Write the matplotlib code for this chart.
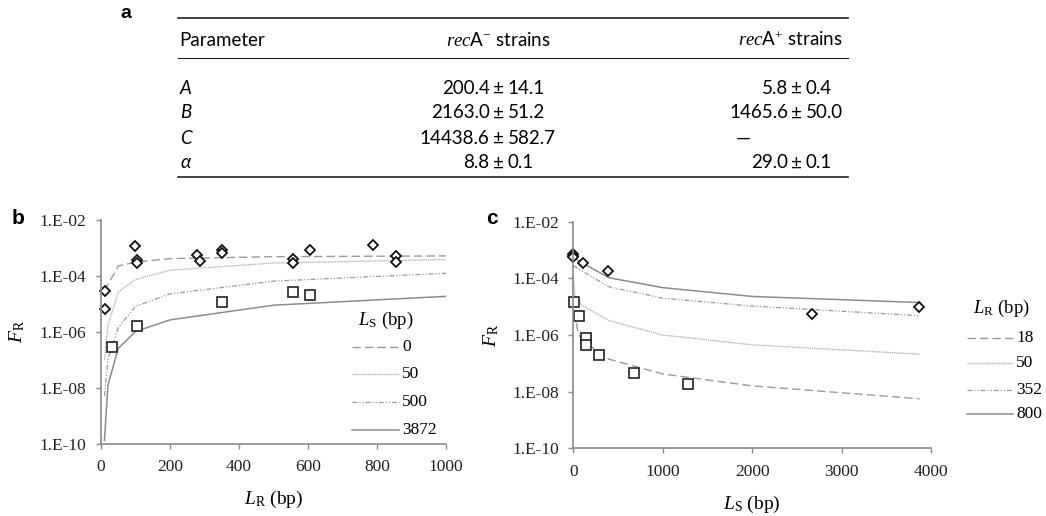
import numpy as np
import matplotlib
matplotlib.use("Agg")
import matplotlib.pyplot as plt
from matplotlib.ticker import FixedLocator, FuncFormatter

plt.rcParams["font.family"] = ["Liberation Serif", "DejaVu Serif"]
plt.rcParams["mathtext.fontset"] = "custom"
plt.rcParams["mathtext.rm"] = "Liberation Serif"
plt.rcParams["mathtext.it"] = "Liberation Serif:italic"

# ---- table (panel a) ----
tab_header = ["Parameter", "recA", "recA"]
tab_params = ["A", "B", "C", "α"]
tab_minus_val = ["200.4", "2163.0", "14438.6", "8.8"]
tab_minus_err = ["14.1", "51.2", "582.7", "0.1"]
tab_plus_val = ["5.8", "1465.6", None, "29.0"]
tab_plus_err = ["0.4", "50.0", None, "0.1"]

# ---- panel b: F_R vs L_R ----
b_dia_x = [12.6, 12.6, 97.7, 105, 105, 277.6, 287, 352, 352, 557, 557, 605, 788, 856, 856]
b_dia_y = [2.9e-5, 6.3e-6, 1.1e-3, 3.7e-4, 2.8e-4, 5.4e-4, 3.2e-4, 8.1e-4, 6.2e-4,
           3.8e-4, 2.8e-4, 8.1e-4, 1.2e-3, 4.9e-4, 3.0e-4]
b_sq_x = [31, 105, 352, 557, 605]
b_sq_y = [2.8e-7, 1.6e-6, 1.15e-5, 2.5e-5, 2.0e-5]

b_ls_labels = ["0", "50", "500", "3872"]
b_curve_x = [
    [10, 50, 100, 200, 500, 1000],
    [10, 20, 50, 100, 200, 500, 1000],
    [10, 20, 50, 100, 200, 500, 1000],
    [10, 20, 50, 100, 200, 500, 1000],
]
b_curve_y = [
    [2.8e-5, 2.2e-4, 3.0e-4, 4.0e-4, 4.7e-4, 5.0e-4],
    [1e-7, 1.6e-6, 2.6e-5, 7.2e-5, 1.55e-4, 2.8e-4, 3.7e-4],
    [5e-9, 1e-7, 1.4e-6, 7.9e-6, 2.2e-5, 6.3e-5, 1.2e-4],
    [1.3e-10, 1.2e-8, 2.5e-7, 1e-6, 2.6e-6, 8.7e-6, 1.8e-5],
]

# ---- panel c: F_R vs L_S ----
c_dia_x = [0, 0, 0, 112, 392, 2665, 3870]
c_dia_y = [7.1e-4, 6.3e-4, 5.6e-4, 3.5e-4, 1.8e-4, 5.5e-6, 9.8e-6]
c_sq_x = [11, 67, 138, 145, 287, 683, 1287]
c_sq_y = [1.5e-5, 4.6e-6, 7.6e-7, 4.4e-7, 1.9e-7, 4.6e-8, 1.9e-8]

c_lr_labels = ["18", "50", "352", "800"]
c_curve_x = [
    [0, 50, 100, 400, 1000, 2000, 3872],
    [0, 20, 100, 400, 1000, 2000, 3872],
    [0, 100, 400, 1000, 2000, 3872],
    [0, 100, 400, 1000, 2000, 3872],
]
c_curve_y = [
    [2e-5, 1.26e-6, 6.3e-7, 1.4e-7, 4.2e-8, 1.6e-8, 5.6e-9],
    [1.26e-4, 2.2e-5, 1.1e-5, 3.2e-6, 1e-6, 4.5e-7, 2.1e-7],
    [2.8e-4, 1.8e-4, 5.0e-5, 2.0e-5, 1.05e-5, 4.8e-6],
    [5.6e-4, 3.5e-4, 1.05e-4, 4.7e-5, 2.3e-5, 1.4e-5],
]

yticks = [1e-10, 1e-8, 1e-6, 1e-4, 1e-2]
styles = [
    dict(color="#9a9a9a", ls=(0, (6, 3)), lw=1.0),
    dict(color="#b5b5b5", ls=(0, (1, 0.6)), lw=1.0),
    dict(color="#9a9a9a", ls=(0, (4, 1.5, 1, 1.5, 1, 1.5)), lw=0.9),
    dict(color="#8c8c8c", ls="-", lw=1.1),
]

fig = plt.figure(figsize=(10.46, 5.16), dpi=100)

def fx(px):
    return px / 1046.0
def fy(py):
    return 1 - py / 516.0

# ---------------- panel a: table ----------------
sans = ["Lato", "Liberation Sans", "DejaVu Sans"]
fs_t = 13.5

fig.text(fx(126), fy(13), "a", family=["Liberation Sans", "DejaVu Sans"], weight="bold",
         fontsize=14, ha="center", va="center")
for yl, lw in [(18, 1.2), (58, 0.8), (177, 1.2)]:
    fig.add_artist(plt.Line2D([fx(178), fx(848)], [fy(yl), fy(yl)], color="#222222",
                              lw=lw, transform=fig.transFigure))
fig.text(fx(179), fy(40), tab_header[0], family=sans, fontsize=fs_t, ha="left", va="center")
fig.text(fx(498), fy(40), r"$\it{rec}$A$^{-}$ strains", family=sans, fontsize=fs_t,
         ha="center", va="center")
fig.text(fx(843), fy(40), r"$\it{rec}$A$^{+}$ strains", family=sans, fontsize=fs_t,
         ha="right", va="center")
row_y = [88, 113, 138, 163]
pm_minus = 498.5
pm_plus = 797
gap = 9
for i, p in enumerate(tab_params):
    yy = fy(row_y[i])
    fig.text(fx(180), yy, p, family=sans, fontsize=fs_t, style="italic", ha="left", va="center")
    fig.text(fx(pm_minus - gap), yy, tab_minus_val[i], family=sans, fontsize=fs_t, ha="right", va="center")
    fig.text(fx(pm_minus), yy, "±", family=sans, fontsize=fs_t, ha="center", va="center")
    fig.text(fx(pm_minus + gap), yy, tab_minus_err[i], family=sans, fontsize=fs_t, ha="left", va="center")
    if tab_plus_val[i] is None:
        fig.text(fx(743), yy, "—", family=sans, fontsize=fs_t, ha="center", va="center")
    else:
        fig.text(fx(pm_plus - gap), yy, tab_plus_val[i], family=sans, fontsize=fs_t, ha="right", va="center")
        fig.text(fx(pm_plus), yy, "±", family=sans, fontsize=fs_t, ha="center", va="center")
        fig.text(fx(pm_plus + gap), yy, tab_plus_err[i], family=sans, fontsize=fs_t, ha="left", va="center")

# ---------------- panels b and c ----------------
axb = fig.add_axes([fx(101), fy(443.5), fx(345), 224 / 516.0])
axc = fig.add_axes([fx(573.3), fy(448.3), fx(357.7), 226.6 / 516.0])

def style_axes(ax):
    ax.set_yscale("log")
    ax.set_ylim(1e-10, 1e-2)
    ax.yaxis.set_major_locator(FixedLocator(yticks))
    ax.yaxis.set_minor_locator(FixedLocator([]))
    ax.yaxis.set_major_formatter(FuncFormatter(lambda v, p: "1.E-%02d" % round(-np.log10(v))))
    for s in ["top", "right"]:
        ax.spines[s].set_visible(False)
    for s in ["left", "bottom"]:
        ax.spines[s].set_color("#8a8a8a")
        ax.spines[s].set_linewidth(1.2)
    ax.tick_params(axis="both", direction="out", length=3.5, width=1.0, color="#8a8a8a",
                   labelsize=12.5, labelcolor="#222222")
    ax.tick_params(axis="y", pad=7)
    ax.tick_params(axis="x", pad=8)
    ax.patch.set_alpha(0)

def manual_legend(title, labels, title_xy, x0, x1, ys):
    fig.text(fx(title_xy[0]), fy(title_xy[1]), title, fontsize=13.5, ha="center", va="center")
    for k, lab in enumerate(labels):
        fig.add_artist(plt.Line2D([fx(x0), fx(x1)], [fy(ys[k]), fy(ys[k])],
                                  transform=fig.transFigure, **styles[k]))
        fig.text(fx(x1 + 3), fy(ys[k]), lab, fontsize=12.5, ha="left", va="center")

for k in range(4):
    axb.plot(b_curve_x[k], b_curve_y[k], **styles[k])
axb.plot(b_dia_x, b_dia_y, ls="none", marker="D", ms=5.5, mfc="white", mec="#111111",
         mew=1.3, clip_on=False)
axb.plot(b_sq_x, b_sq_y, ls="none", marker="s", ms=7.5, mfc="white", mec="#222222",
         mew=1.2, clip_on=False)
style_axes(axb)
axb.set_xlim(0, 1000)
axb.set_xticks([0, 200, 400, 600, 800, 1000])
axb.set_xlabel(r"$L_{\rm R}$ (bp)", fontsize=14, labelpad=10)
axb.set_ylabel(r"$F_{\rm R}$", fontsize=14, labelpad=9)
manual_legend(r"$L_{\rm S}$ (bp)", b_ls_labels, (386, 320), 352, 399, [346.7, 374, 402, 430])

for k in range(4):
    axc.plot(c_curve_x[k], c_curve_y[k], **styles[k])
axc.plot(c_dia_x, c_dia_y, ls="none", marker="D", ms=5.5, mfc="white", mec="#111111",
         mew=1.3, clip_on=False)
axc.plot(c_sq_x, c_sq_y, ls="none", marker="s", ms=7.5, mfc="white", mec="#222222",
         mew=1.2, clip_on=False)
style_axes(axc)
axc.set_xlim(0, 4000)
axc.set_xticks([0, 1000, 2000, 3000, 4000])
axc.set_xlabel(r"$L_{\rm S}$ (bp)", fontsize=14, labelpad=10)
axc.set_ylabel(r"$F_{\rm R}$", fontsize=14, labelpad=8)
manual_legend(r"$L_{\rm R}$ (bp)", c_lr_labels, (1001, 308), 967, 1013, [338, 363, 390, 414])

fig.text(fx(18), fy(218), "b", family=["Liberation Sans", "DejaVu Sans"], weight="bold",
         fontsize=15, ha="center", va="center")
fig.text(fx(492), fy(218), "c", family=["Liberation Sans", "DejaVu Sans"], weight="bold",
         fontsize=15, ha="center", va="center")

fig.savefig("out.png", dpi=100)
